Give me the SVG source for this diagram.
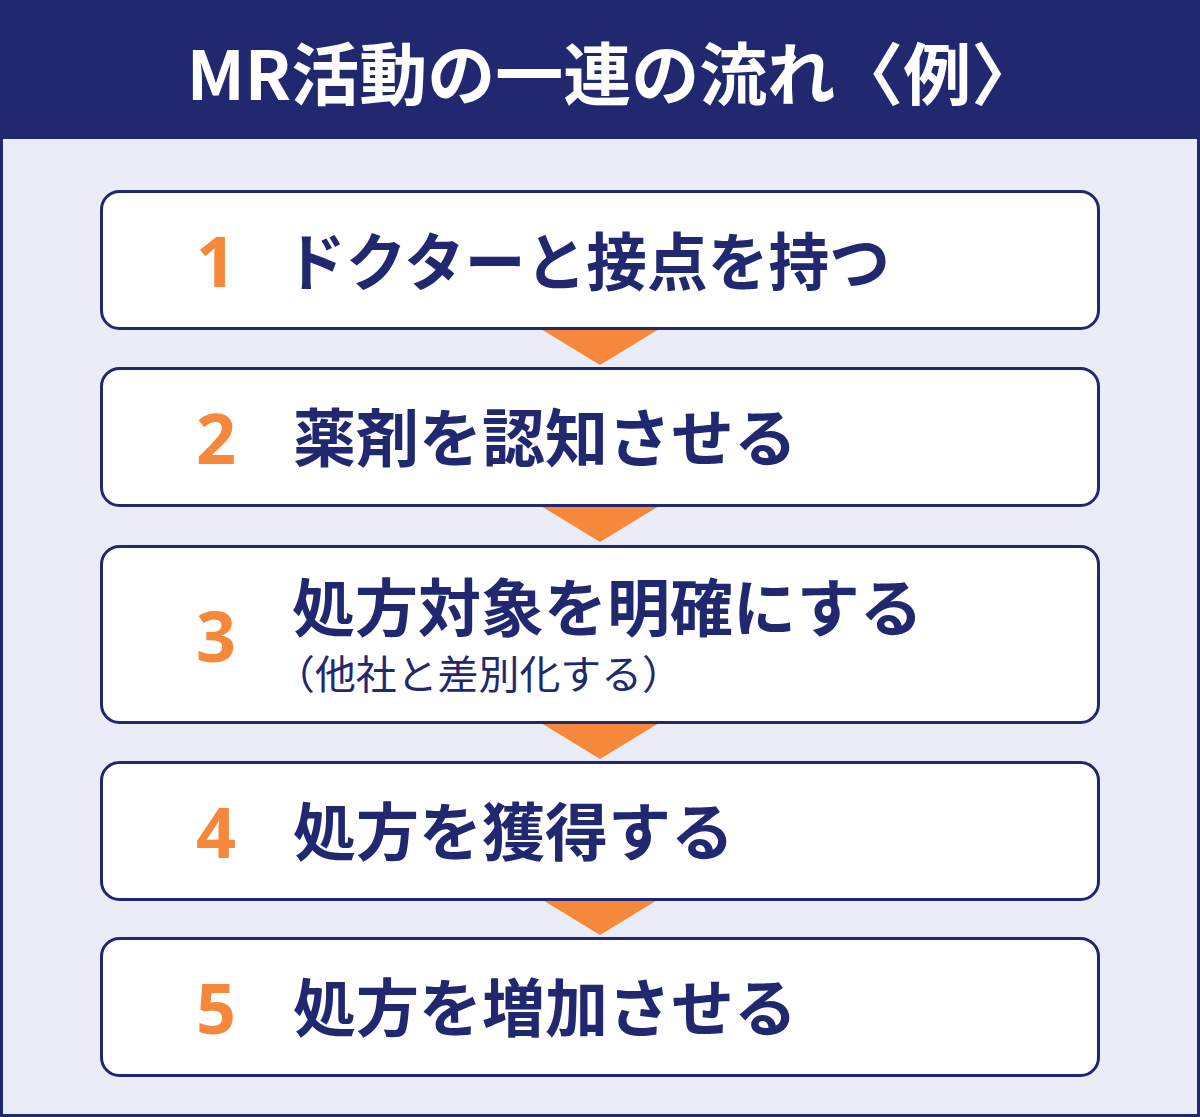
<svg xmlns="http://www.w3.org/2000/svg" width="1200" height="1117" viewBox="0 0 1200 1117">
<style>
.box{fill:#ffffff;stroke:#222870;stroke-width:3}
.num{font-family:"Noto Sans","Noto Sans CJK JP",sans-serif;font-weight:700;font-size:70px;fill:#F5883A;text-anchor:middle}
.lbl{font-family:"Noto Sans CJK JP",sans-serif;font-weight:700;font-size:63px;fill:#222870}
.sub{font-family:"Noto Sans CJK JP",sans-serif;font-weight:400;font-size:40px;fill:#222870}
.arr{fill:#F5883A}
</style>
<rect x="1.5" y="100" width="1197" height="1015.5" fill="#EAECF8" stroke="#222870" stroke-width="3"/>
<rect x="0" y="0" width="1200" height="139" fill="#222870"/>
<text x="613" y="100" font-family="'Noto Sans CJK JP',sans-serif" font-weight="700" font-size="68" fill="#ffffff" text-anchor="middle">MR活動の一連の流れ〈例〉</text>
<g id="connectors">
<polygon class="arr" points="541,329 659,329 600,365"/>
<polygon class="arr" points="541,506 659,506 600,542"/>
<polygon class="arr" points="541,723 659,723 600,759"/>
<polygon class="arr" points="541,899 659,899 600,935"/>
</g>
<g id="step1">
<rect class="box" x="101.5" y="191.5" width="997" height="137" rx="18"/>
<text class="num" x="216" y="287">1</text>
<text class="lbl" x="285" y="285" font-size="62" textLength="605" lengthAdjust="spacingAndGlyphs">ドクターと接点を持つ</text>
</g>
<g id="step2">
<rect class="box" x="101.5" y="368.5" width="997" height="137" rx="18"/>
<text class="num" x="216" y="464">2</text>
<text class="lbl" x="293" y="461">薬剤を認知させる</text>
</g>
<g id="step3">
<rect class="box" x="101.5" y="546.5" width="997" height="176" rx="18"/>
<text class="num" x="216" y="662">3</text>
<text class="lbl" x="292" y="631">処方対象を明確にする</text>
<text class="sub" x="274" y="689" textLength="409" lengthAdjust="spacingAndGlyphs">（他社と差別化する）</text>
</g>
<g id="step4">
<rect class="box" x="101.5" y="762.5" width="997" height="137" rx="18"/>
<text class="num" x="216" y="858">4</text>
<text class="lbl" x="293" y="855">処方を獲得する</text>
</g>
<g id="step5">
<rect class="box" x="101.5" y="938.5" width="997" height="137" rx="18"/>
<text class="num" x="216" y="1034">5</text>
<text class="lbl" x="293" y="1031">処方を増加させる</text>
</g>
</svg>
